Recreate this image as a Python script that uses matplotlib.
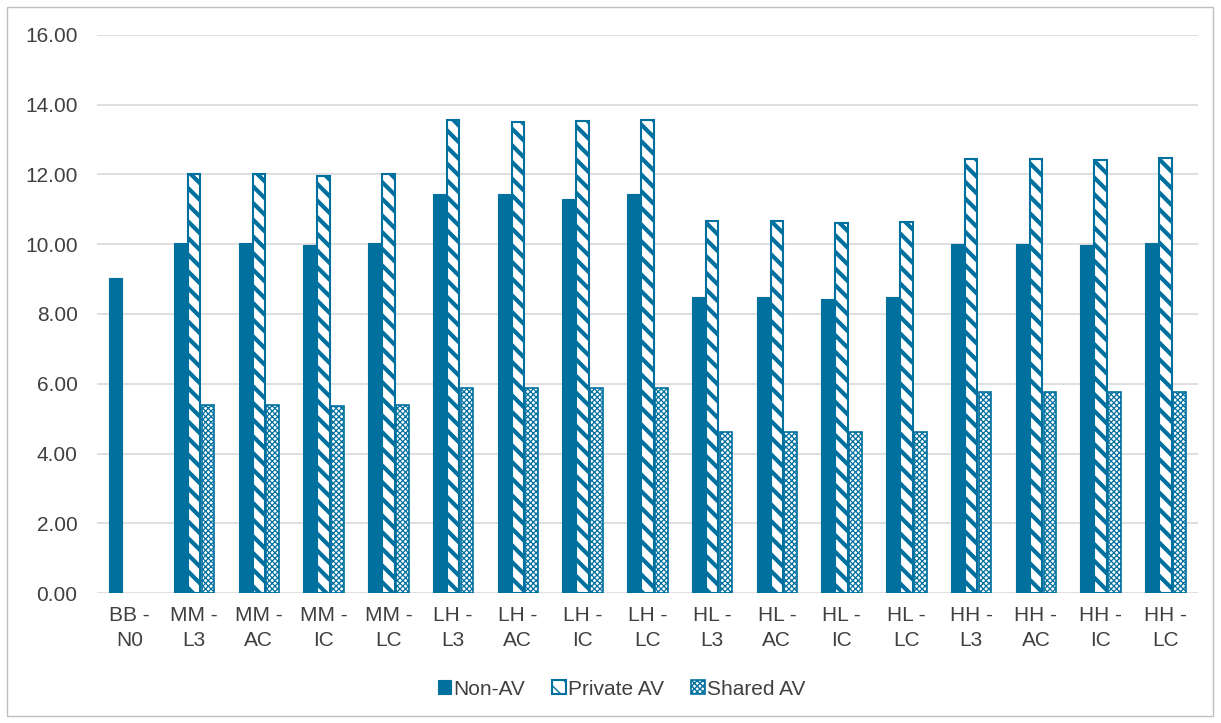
import numpy as np
import matplotlib
matplotlib.use("Agg")
import matplotlib.pyplot as plt
from matplotlib.patches import Rectangle

categories = ["BB -\nN0", "MM -\nL3", "MM -\nAC", "MM -\nIC", "MM -\nLC",
              "LH -\nL3", "LH -\nAC", "LH -\nIC", "LH -\nLC",
              "HL -\nL3", "HL -\nAC", "HL -\nIC", "HL -\nLC",
              "HH -\nL3", "HH -\nAC", "HH -\nIC", "HH -\nLC"]
non_av = [9.02, 10.05, 10.05, 9.97, 10.05, 11.43, 11.45, 11.30, 11.44,
          8.50, 8.48, 8.42, 8.50, 10.02, 10.00, 9.98, 10.05]
private_av = [np.nan, 12.00, 12.02, 11.95, 12.02, 13.57, 13.50, 13.53, 13.55,
              10.67, 10.67, 10.62, 10.65, 12.45, 12.45, 12.42, 12.48]
shared_av = [np.nan, 5.38, 5.38, 5.37, 5.38, 5.87, 5.87, 5.87, 5.87,
             4.63, 4.63, 4.62, 4.63, 5.76, 5.76, 5.75, 5.76]
y_ticks = [0, 2, 4, 6, 8, 10, 12, 14, 16]

blue = "#00709F"
plt.rcParams["font.family"] = ["Liberation Sans", "DejaVu Sans"]

fig = plt.figure(figsize=(12.21, 7.23), dpi=100)
ax = fig.add_axes([0.0794, 0.1798, 0.9016, 0.7718])

x = np.arange(len(categories))
w = 0.195
gap = 0.215

ax.bar(x - gap, non_av, w, color=blue, edgecolor=blue, linewidth=0.8,
       label="Non-AV", zorder=3)
with plt.rc_context({"hatch.linewidth": 3.0, "hatch.color": blue}):
    ax.bar(x, private_av, w, color="white", edgecolor=blue, hatch="\\\\",
           linewidth=1.5, label="Private AV", zorder=3)
with plt.rc_context({"hatch.linewidth": 0.9, "hatch.color": blue}):
    ax.bar(x + gap, shared_av, w, color="white", edgecolor=blue,
           hatch="xxxxxx", linewidth=1.2, label="Shared AV", zorder=3)

ax.set_xlim(-0.5, len(categories) - 0.5)
ax.set_ylim(0, 16)
ax.set_yticks(y_ticks)
ax.set_yticklabels([f"{v:.2f}" for v in y_ticks])
ax.set_xticks(x)
ax.set_xticklabels(categories, linespacing=1.45)
ax.tick_params(axis="both", length=0, labelsize=15, colors="#404040",
               labelcolor="#404040")
ax.tick_params(axis="x", pad=9)
ax.tick_params(axis="y", pad=14)
ax.grid(axis="y", color="#D9D9D9", linewidth=1.2, zorder=0)
for s in ax.spines.values():
    s.set_visible(False)

leg = fig.legend(loc="center", bbox_to_anchor=(0.509, 0.047), ncol=3,
                 frameon=False, fontsize=15, handlelength=0.65,
                 handleheight=0.65, handletextpad=0.1, columnspacing=1.3)
for t in leg.get_texts():
    t.set_color("#404040")

fig.patches.append(Rectangle((7 / 1221, 7 / 723), 1206 / 1221, 709 / 723,
                             transform=fig.transFigure, fill=False,
                             edgecolor="#BFBFBF", linewidth=1.0))

fig.savefig("out.png", dpi=100)
